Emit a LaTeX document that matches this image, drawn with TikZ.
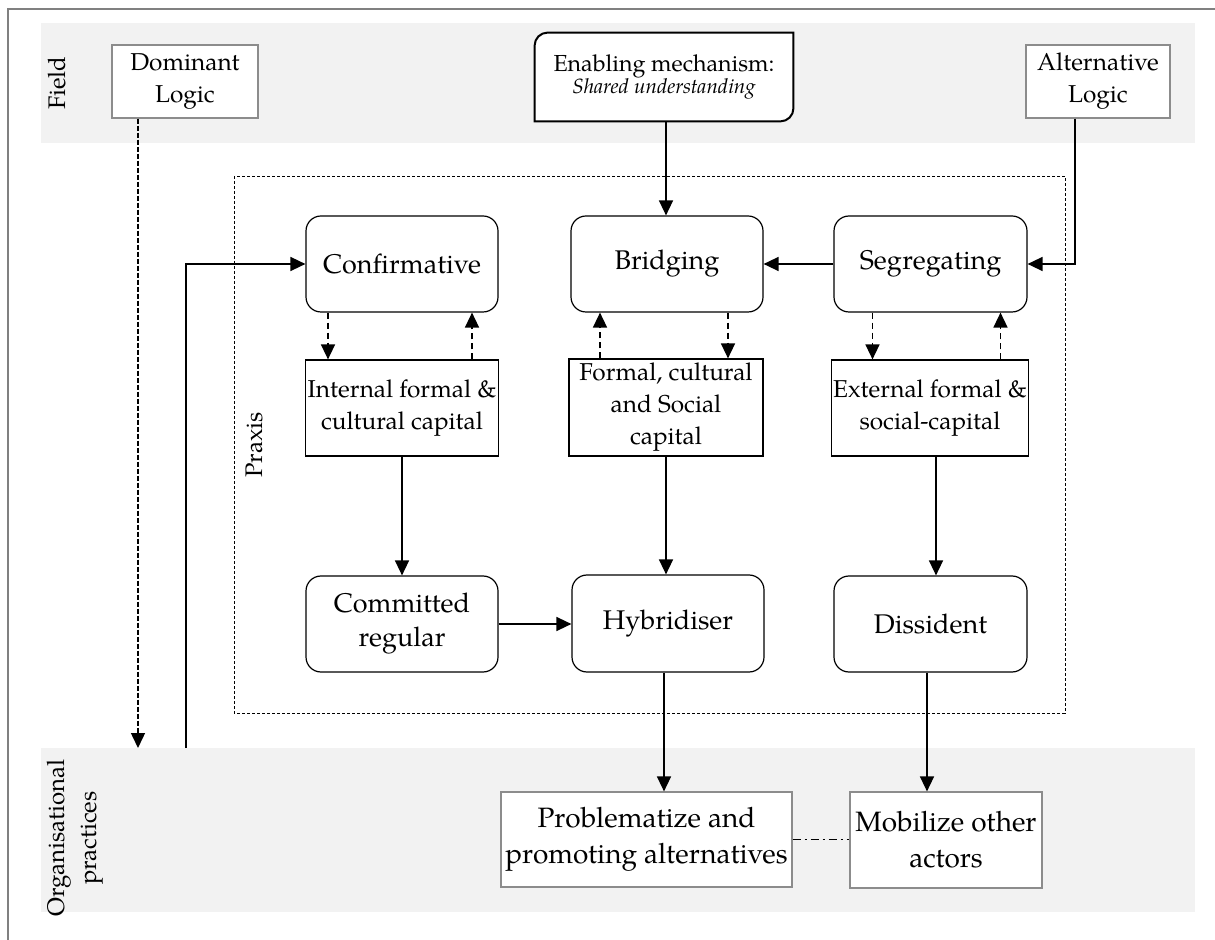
\documentclass[tikz,border=0pt]{standalone}
\usepackage{fontspec}
\setmainfont{TeX Gyre Pagella}
\usetikzlibrary{arrows.meta,calc}
\definecolor{bandgray}{HTML}{F2F2F2}
\definecolor{framegray}{HTML}{808080}
\definecolor{boxgray}{HTML}{8C8C8C}
\tikzset{
  role/.style={draw, line width=0.6pt, rounded corners=7.5pt, fill=white,
    align=center, inner sep=2pt, font=\fontsize{13.5}{17}\selectfont},
  capbox/.style={draw, line width=0.6pt, fill=white, align=center, inner sep=1pt,
    font=\fontsize{12.2}{16}\selectfont},
  logicbox/.style={draw=boxgray, line width=0.6pt, fill=white, align=center,
    inner sep=1pt, font=\fontsize{12.2}{16}\selectfont},
  practice/.style={draw=boxgray, line width=0.6pt, fill=white, align=center,
    inner sep=1pt, font=\fontsize{14}{18}\selectfont},
  sidelabel/.style={rotate=90, align=center, font=\fontsize{12}{16}\selectfont},
  tip/.style={-{Triangle[length=7.5pt,width=7pt]}},
  link/.style={tip, line width=0.75pt},
  dlink/.style={tip, line width=0.75pt, dash pattern=on 3pt off 2pt},
}
\begin{document}
\begin{tikzpicture}[x=0.5pt, y=-0.5pt]
\useasboundingbox (0,0) rectangle (1215,940);
% outer frame (top and left edges)
\draw[framegray, line width=1pt] (8,940) -- (8,9) -- (1215,9);
% bands
\fill[bandgray] (41,23) rectangle (1195,143);
\fill[bandgray] (41,748) rectangle (1195,912);
% praxis frame
\draw[line width=0.4pt, dash pattern=on 1.5pt off 1pt] (234,176) rectangle (1065,713);

% band labels
\node[sidelabel] (lfield) at (57,83) {Field};
\node[sidelabel] (lorg) at (75,838) {Organisational\\practices};
\node[sidelabel] (lpraxis) at (254,445) {Praxis};

% field level
\node[logicbox, minimum width=73pt, minimum height=36.5pt] (dom) at (185,81.5) {Dominant\\Logic};
\node[logicbox, minimum width=72pt, minimum height=36.5pt] (alt) at (1098,81.5) {Alternative\\Logic};
% enabling mechanism: frame with two rounded corners, then its text
\node[minimum width=129pt, minimum height=44pt, inner sep=0pt] (enab) at (664,77) {};
\draw[line width=1pt, fill=white]
  (enab.south west) -- ([yshift=-6.5pt]enab.north west)
  arc[start angle=180, end angle=90, radius=6.5pt]
  -- (enab.north east) -- ([yshift=6.5pt]enab.south east)
  arc[start angle=0, end angle=-90, radius=6.5pt] -- cycle;
\node[align=center, inner sep=0pt] (enabtxt) at (enab.center)
  {\fontsize{11.6}{15}\selectfont Enabling mechanism:\\[-1pt]\fontsize{10.3}{13}\selectfont\itshape Shared understanding};

% strategies
\node[role, minimum width=96pt, minimum height=48pt] (conf) at (402,264) {Confirmative};
\node[role, minimum width=96pt, minimum height=48pt] (brid) at (667,264) {Bridging};
\node[role, minimum width=96.5pt, minimum height=48pt] (seg) at (930.5,264) {Segregating};

% capitals
\node[capbox, minimum width=96.5pt, minimum height=48pt] (cap1) at (402,408) {Internal formal \&\\cultural capital};
\node[capbox, minimum width=97pt, minimum height=48.5pt] (cap2) at (666,407.5) {Formal, cultural\\and Social\\capital};
\node[capbox, minimum width=97pt, minimum height=48pt] (cap3) at (930,408) {External formal \&\\social-capital};

% actor types
\node[role, minimum width=96pt, minimum height=48pt] (comm) at (402,624) {Committed\\regular};
\node[role, minimum width=96pt, minimum height=48.5pt] (hyb) at (668,623.5) {Hybridiser};
\node[role, minimum width=96.5pt, minimum height=48pt] (diss) at (930.5,624) {Dissident};

% organisational practices
\node[practice, minimum width=145.5pt, minimum height=47.5pt] (prob) at (646.5,839.5) {Problematize and\\promoting alternatives};
\node[practice, minimum width=96pt, minimum height=48pt] (mob) at (946,840) {Mobilize other\\actors};

% free ends at the practices band
\coordinate (domend) at (138,748);
\coordinate (fbstart) at (186,748);

% connectors
\draw[link] ([xshift=1pt]enab.south) -- ([xshift=1pt]enab.south |- brid.north);
\draw[link] ([xshift=-11.5pt]alt.south) |- (seg.east);
\draw[link] (seg.west) -- (brid.east);
\draw[tip, line width=0.75pt, dash pattern=on 2.5pt off 1pt] ([xshift=-23.5pt]dom.south) -- (domend);
\draw[link] (fbstart) |- (conf.west);

\draw[dlink] ([xshift=-37pt]conf.south) -- ([xshift=-37pt]conf.south |- cap1.north);
\draw[dlink] ([xshift=35pt]conf.south |- cap1.north) -- ([xshift=35pt]conf.south);
\draw[dlink] ([xshift=-33.5pt]brid.south |- cap2.north) -- ([xshift=-33.5pt]brid.south);
\draw[dlink] ([xshift=30.5pt]brid.south) -- ([xshift=30.5pt]brid.south |- cap2.north);
\draw[dlink] ([xshift=-29pt]seg.south) -- ([xshift=-29pt]seg.south |- cap3.north);
\draw[dlink] ([xshift=35pt]seg.south |- cap3.north) -- ([xshift=35pt]seg.south);

\draw[link] (cap1.south) -- (comm.north);
\draw[link] (cap2.south) -- (cap2.south |- hyb.north);
\draw[link] ([xshift=3pt]cap3.south) -- ([xshift=3pt]cap3.south |- diss.north);
\draw[link] (comm.east) -- (comm.east -| hyb.west);

\draw[link] ([xshift=-2pt]hyb.south) -- ([xshift=-2pt]hyb.south |- prob.north);
\draw[link] ([xshift=-1.75pt]diss.south) -- ([xshift=-1.75pt]diss.south |- mob.north);
\draw[line width=0.5pt, dash pattern=on 4pt off 2pt on 1pt off 2pt] (prob.east) -- (prob.east -| mob.west);
\end{tikzpicture}
\end{document}
